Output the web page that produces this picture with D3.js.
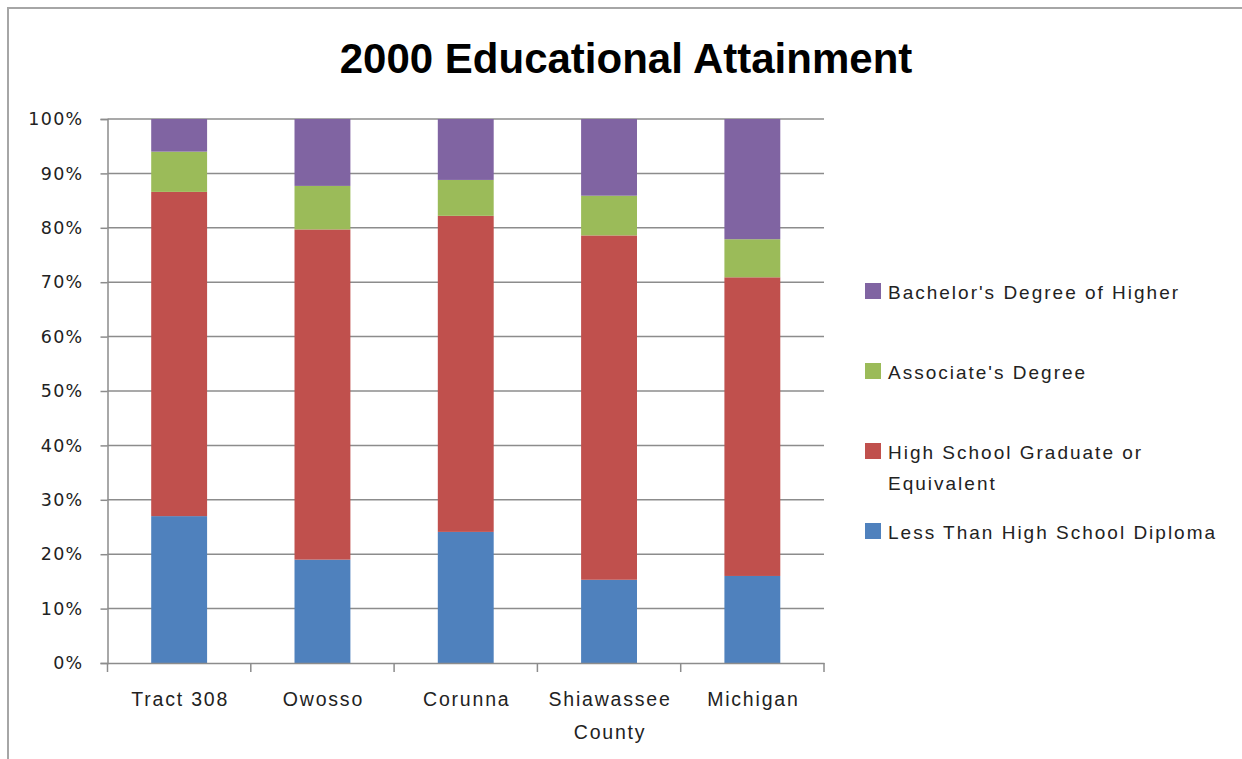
<!DOCTYPE html>
<html>
<head>
<meta charset="utf-8">
<script src="https://cdn.jsdelivr.net/npm/d3@7"></script>
<style>
  html, body { margin: 0; padding: 0; background: #fff; }
  svg { display: block; }
</style>
</head>
<body>
<svg id="chart" width="1242" height="759"></svg>
<script>
// ---- Data ----
const categories = ["Tract 308", "Owosso", "Corunna", "Shiawassee County", "Michigan"];
const seriesNames = [
  "Less Than High School Diploma",
  "High School Graduate or Equivalent",
  "Associate's Degree",
  "Bachelor's Degree of Higher"
];
const lessThanHS   = [27.0, 19.0, 24.1, 15.3, 16.0];
const hsGraduate   = [59.6, 60.7, 58.1, 63.3, 54.9];
const associates   = [7.4, 8.0, 6.6, 7.3, 7.0];
const bachelors    = [6.0, 12.3, 11.2, 14.1, 22.1];
const yTickValues  = [0, 10, 20, 30, 40, 50, 60, 70, 80, 90, 100];
const seriesColors = ["#4F81BD", "#C0504D", "#9BBB59", "#8064A2"];
const titleText = "2000 Educational Attainment";

// ---- Build table ----
const seriesValues = [lessThanHS, hsGraduate, associates, bachelors];
const table = categories.map((c, i) => {
  const row = { category: c };
  let total = 0;
  seriesNames.forEach((s, j) => { total += seriesValues[j][i]; });
  seriesNames.forEach((s, j) => { row[s] = seriesValues[j][i] / total; });
  return row;
});

const svg = d3.select("#chart");

// Outer border (chart area frame)
svg.append("rect")
  .attr("x", 8).attr("y", 8)
  .attr("width", 1300).attr("height", 800)
  .attr("fill", "none").attr("stroke", "#a6a6a6").attr("stroke-width", 2);

const plot = { left: 107.5, right: 824, top: 119, bottom: 663 };

const x = d3.scaleBand()
  .domain(categories)
  .range([plot.left, plot.right])
  .paddingInner(0.61)
  .paddingOuter(0.305);

const y = d3.scaleLinear().domain([0, 1]).range([plot.bottom, plot.top]);

const color = d3.scaleOrdinal().domain(seriesNames).range(seriesColors);

// Gridlines
svg.append("g")
  .selectAll("line")
  .data(yTickValues.filter(v => v > 0))
  .join("line")
  .attr("x1", plot.left).attr("x2", plot.right)
  .attr("y1", d => y(d / 100)).attr("y2", d => y(d / 100))
  .attr("stroke", "#8c8c8c").attr("stroke-width", 1.5);

// Bars
const stacked = d3.stack().keys(seriesNames)(table);
svg.append("g")
  .selectAll("g")
  .data(stacked)
  .join("g")
  .attr("fill", d => color(d.key))
  .selectAll("rect")
  .data(d => d)
  .join("rect")
  .attr("x", d => x(d.data.category))
  .attr("width", x.bandwidth())
  .attr("y", d => y(d[1]))
  .attr("height", d => y(d[0]) - y(d[1]));

// Y axis
const yAxis = svg.append("g")
  .attr("transform", `translate(${plot.left},0)`)
  .call(d3.axisLeft(y)
    .tickValues(yTickValues.map(v => v / 100))
    .tickFormat(d => Math.round(d * 100) + "%")
    .tickSize(7)
    .tickPadding(17));
yAxis.select(".domain").attr("stroke", "#8c8c8c").attr("stroke-width", 1.5);
yAxis.selectAll(".tick line").attr("stroke", "#8c8c8c").attr("stroke-width", 1.5);
yAxis.selectAll(".tick text")
  .attr("font-family", "'DejaVu Sans', Verdana, sans-serif")
  .attr("font-size", 17.5)
  .attr("letter-spacing", "1.3px")
  .attr("fill", "#222");

// X axis
const xAxis = svg.append("g")
  .attr("transform", `translate(0,${plot.bottom})`)
  .call(d3.axisBottom(x).tickSize(0).tickFormat(""));
xAxis.select(".domain").attr("stroke", "#8c8c8c").attr("stroke-width", 1.5);
xAxis.selectAll(".tick").remove();

// X tick marks at category boundaries
const step = x.step();
const boundaries = d3.range(categories.length + 1).map(i => plot.left + i * step);
xAxis.append("g")
  .selectAll("line")
  .data(boundaries)
  .join("line")
  .attr("x1", d => d).attr("x2", d => d)
  .attr("y1", 0).attr("y2", 9)
  .attr("stroke", "#8c8c8c").attr("stroke-width", 1.5);

// X labels (wrap "Shiawassee County")
const xLabels = svg.append("g")
  .selectAll("text")
  .data(categories)
  .join("text")
  .attr("transform", d => `translate(${x(d) + x.bandwidth() / 2 + 1},706)`)
  .attr("text-anchor", "middle")
  .attr("font-family", "'Liberation Sans', Arial, sans-serif")
  .attr("font-size", 19.5)
  .attr("letter-spacing", "1.8px")
  .attr("fill", "#222");
xLabels.each(function(d) {
  const t = d3.select(this);
  const words = d === "Shiawassee County" ? ["Shiawassee", "County"] : [d];
  words.forEach((w, i) => {
    t.append("tspan")
      .attr("x", 0)
      .attr("dy", i === 0 ? 0 : 33)
      .text(w);
  });
});

// Title
svg.append("text")
  .attr("x", 626)
  .attr("y", 73)
  .attr("text-anchor", "middle")
  .attr("font-family", "'Liberation Sans', Arial, sans-serif")
  .attr("font-weight", "bold")
  .attr("font-size", 42)
  .attr("fill", "#000")
  .text(titleText);

// Legend (reverse order: top is Bachelor's)
const legendItems = [
  { name: seriesNames[3], lines: ["Bachelor's Degree of Higher"], cy: 291 },
  { name: seriesNames[2], lines: ["Associate's Degree"], cy: 371 },
  { name: seriesNames[1], lines: ["High School Graduate  or", "Equivalent"], cy: 451 },
  { name: seriesNames[0], lines: ["Less Than High School Diploma"], cy: 531 }
];
const legend = svg.append("g");
const li = legend.selectAll("g").data(legendItems).join("g");
li.append("rect")
  .attr("x", 865).attr("y", d => d.cy - 8)
  .attr("width", 16).attr("height", 16)
  .attr("fill", d => color(d.name));
li.append("text")
  .attr("x", 888)
  .attr("y", d => d.cy + 8)
  .attr("font-family", "'Liberation Sans', Arial, sans-serif")
  .attr("font-size", 19)
  .attr("letter-spacing", "2px")
  .attr("fill", "#222")
  .each(function(d) {
    const t = d3.select(this);
    d.lines.forEach((l, i) => {
      t.append("tspan").attr("x", 888).attr("dy", i === 0 ? 0 : 31).text(l);
    });
  });
</script>
</body>
</html>
